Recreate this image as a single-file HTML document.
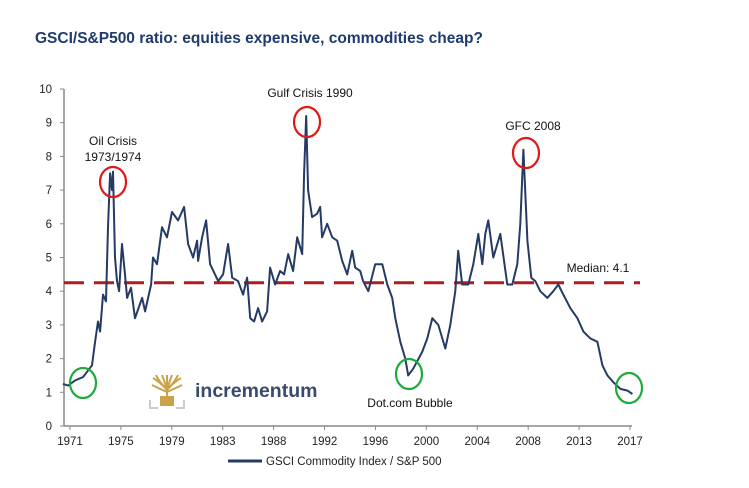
<!DOCTYPE html>
<html><head><meta charset="utf-8"><style>
body{margin:0;background:#fff;font-family:"Liberation Sans",Arial,sans-serif;}
svg text{font-family:"Liberation Sans",Arial,sans-serif;}
</style></head><body>
<svg id="chart" width="749" height="483" xmlns="http://www.w3.org/2000/svg">
<text x="35" y="43" font-size="15.5" font-weight="bold" fill="#1f3a6e">GSCI/S&amp;P500 ratio: equities expensive, commodities cheap?</text>
<g id="axes"></g>
<path id="median" d="" stroke="#b01c1c" stroke-width="3" stroke-dasharray="20,10" fill="none"/>
<path id="series" d="" stroke="#253a64" stroke-width="2" fill="none" stroke-linejoin="round"/>
<g id="annot"></g>
<g>
<g stroke="#c9a24a" stroke-width="2" fill="none">
<path d="M167 405 L167 390 M167 390 Q160 382 153 378 M167 390 Q158 380 156 375 M167 390 Q164 380 162 375 M167 390 L167 375 M167 390 Q170 380 172 375 M167 390 Q176 380 178 375 M167 390 Q174 382 181 378 M167 392 Q158 388 152 385 M167 392 Q176 388 182 385"/>
</g>
<rect x="160" y="396" width="14" height="10" fill="#c9a24a"/>
<path d="M150 400 L150 408 L158 408 M184 400 L184 408 L176 408" stroke="#ccc" stroke-width="2" fill="none"/>
<text x="195" y="397" font-size="19.5" font-weight="bold" fill="#3a4a6e">incrementum</text>
</g>
<g>
<line x1="228" y1="461" x2="262" y2="461" stroke="#253a64" stroke-width="3"/>
<text x="266" y="465" font-size="11.5" fill="#222">GSCI Commodity Index / S&amp;P 500</text>
</g>
</svg>
<script>
const years=[1970.42,1970.84,1971.41,1972.07,1972.81,1973.06,1973.30,1973.47,1973.71,1973.96,1974.12,1974.29,1974.45,1974.53,1974.70,1974.86,1975.03,1975.27,1975.52,1975.69,1976.01,1976.34,1976.92,1977.17,1977.66,1977.82,1978.15,1978.56,1978.97,1979.38,1979.88,1980.37,1980.70,1981.11,1981.44,1981.52,1981.85,1982.18,1982.51,1983.17,1983.58,1983.99,1984.32,1984.81,1985.22,1985.55,1985.80,1986.12,1986.45,1986.78,1987.19,1987.44,1987.85,1988.26,1988.59,1988.92,1989.33,1989.66,1990.07,1990.23,1990.40,1990.56,1990.89,1991.30,1991.55,1991.71,1992.13,1992.54,1992.95,1993.36,1993.77,1994.18,1994.43,1994.84,1995.08,1995.50,1996.07,1996.65,1997.06,1997.47,1997.72,1998.13,1998.54,1998.78,1999.19,1999.93,2000.35,2000.76,2001.25,2001.83,2002.24,2002.65,2002.89,2003.22,2003.72,2004.13,2004.54,2004.87,2005.11,2005.36,2005.77,2006.35,2006.92,2007.33,2007.74,2007.99,2008.24,2008.57,2008.89,2009.22,2009.63,2010.21,2010.70,2011.11,2011.52,2012.10,2012.68,2013.17,2013.74,2014.32,2014.73,2015.14,2015.63,2016.21,2016.79,2017.20];
const ratio=[1.25,1.2,1.35,1.45,1.8,2.5,3.1,2.8,3.9,3.7,5.9,7.5,7.0,7.55,5.0,4.3,4.0,5.4,4.5,3.8,4.1,3.2,3.8,3.4,4.2,5.0,4.8,5.9,5.6,6.35,6.1,6.5,5.4,5.0,5.5,4.9,5.6,6.1,4.8,4.3,4.5,5.4,4.4,4.3,3.9,4.4,3.2,3.1,3.5,3.1,3.4,4.7,4.2,4.6,4.5,5.1,4.6,5.6,5.1,7.5,9.2,7.0,6.2,6.3,6.5,5.6,6.0,5.6,5.5,4.9,4.5,5.2,4.7,4.6,4.3,4.0,4.8,4.8,4.2,3.8,3.2,2.5,2.0,1.5,1.7,2.2,2.6,3.2,3.0,2.3,3.0,4.0,5.2,4.2,4.2,4.8,5.7,4.8,5.7,6.1,5.0,5.7,4.2,4.2,4.8,6.0,8.2,5.5,4.4,4.3,4.0,3.8,4.0,4.2,3.9,3.5,3.2,2.8,2.6,2.5,1.8,1.5,1.3,1.1,1.05,0.95];
const xTickLabels=["1971","1975","1979","1983","1988","1992","1996","2000","2004","2008","2013","2017"];
const yTicks=[0,1,2,3,4,5,6,7,8,9,10];
const medianValue=4.25;
const NS="http://www.w3.org/2000/svg";
const X0=70,X1=630,Y0=426,Y10=89;
const x=t=>X0+(t-1971)*(X1-X0)/46;
const y=v=>Y0-v*(Y0-Y10)/10;
const axes=document.getElementById('axes');
function el(tag,attrs,parent){const e=document.createElementNS(NS,tag);for(const k in attrs)e.setAttribute(k,attrs[k]);parent.appendChild(e);return e;}
const ya=el('line',{x1:64,y1:y(10),x2:64,y2:Y0,stroke:'#888','stroke-width':1.5},axes);


const xa=el('line',{x1:64,y1:Y0,x2:632,y2:Y0,stroke:'#888','stroke-width':1.5},axes);


yTicks.forEach(v=>{
 el('line',{x1:60,y1:y(v),x2:64,y2:y(v),stroke:'#888'},axes);
 const t=el('text',{x:52,y:y(v)+4,'font-size':11.5,'text-anchor':'end',fill:'#222'},axes);
 t.textContent=v;
 
 
});
xTickLabels.forEach((lab,i)=>{
 const px=X0+i*(X1-X0)/(xTickLabels.length-1);
 el('line',{x1:px,y1:Y0,x2:px,y2:Y0+4,stroke:'#888'},axes);
 const t=el('text',{x:px,y:Y0+19,'font-size':11.5,'text-anchor':'middle',fill:'#222'},axes);
 t.textContent=lab;
 
 
});
document.getElementById('series').setAttribute('d',years.map((t,i)=>(i?'L':'M')+x(t).toFixed(1)+' '+y(ratio[i]).toFixed(1)).join(' '));
document.getElementById('median').setAttribute('d','M64 '+y(medianValue)+' L640 '+y(medianValue));
const an=document.getElementById('annot');
[[113,182,'#e01818','oil-crisis-circle'],[307,122,'#e01818','gulf-crisis-circle'],[526,153,'#e01818','gfc-circle'],[83,383,'#1faa3c','1971-low-circle'],[409,374,'#1faa3c','dotcom-circle'],[629,388,'#1faa3c','2017-low-circle']].forEach(c=>{
 const e=el('ellipse',{cx:c[0],cy:c[1],rx:13,ry:15,stroke:c[2],'stroke-width':2.2,fill:'none'},an);
 
 
});
[[113,145,'Oil Crisis','oil-crisis-label'],[113,161,'1973/1974','oil-crisis-years'],[310,97,'Gulf Crisis 1990','gulf-crisis-label'],[533,130,'GFC 2008','gfc-label'],[410,407,'Dot.com Bubble','dotcom-label'],[598,272,'Median: 4.1','median-label']].forEach(a=>{
 const t=el('text',{x:a[0],y:a[1],'font-size':12,'text-anchor':'middle',fill:'#111'},an);
 t.textContent=a[2];
 
 
});
</script>
</body></html>
